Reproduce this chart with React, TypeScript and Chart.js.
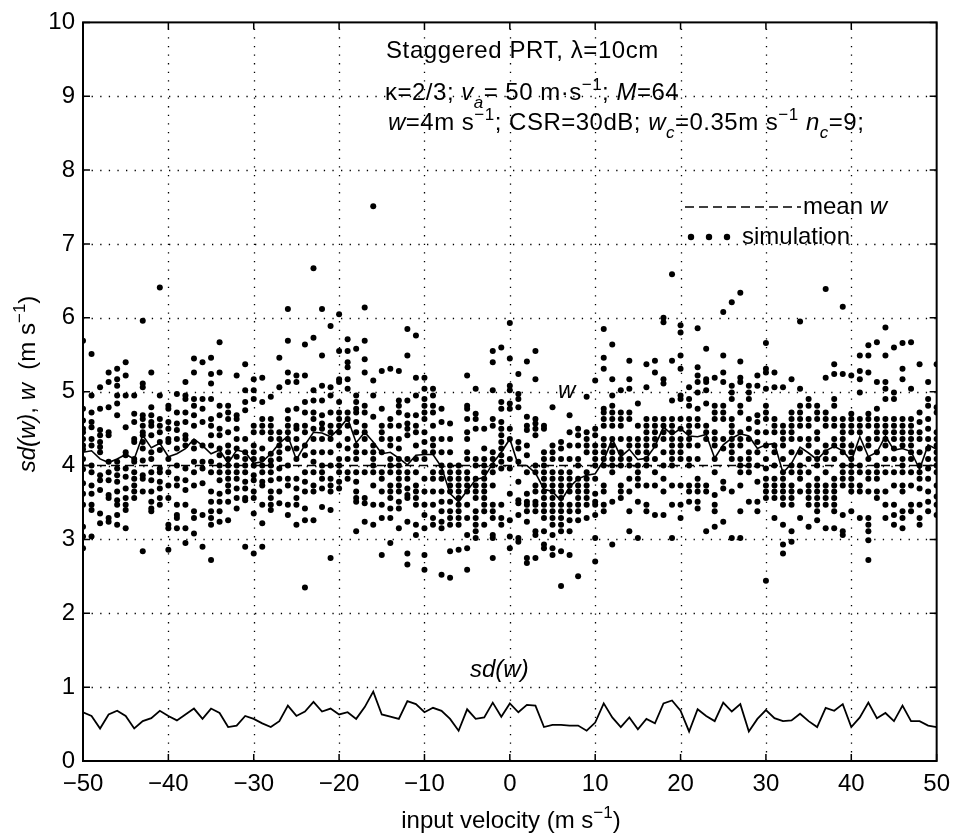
import React, { useEffect, useRef } from 'react';
import { Chart, registerables } from 'chart.js';
Chart.register(...registerables);

// ---------- DATA ----------
const VELOCITY = [
  -50, -49, -48, -47, -46, -45, -44, -43, -42, -41, -40, -39, -38, -37, -36, -35, -34,
  -33, -32, -31, -30, -29, -28, -27, -26, -25, -24, -23, -22, -21, -20, -19, -18, -17,
  -16, -15, -14, -13, -12, -11, -10, -9, -8, -7, -6, -5, -4, -3, -2, -1, 0, 1, 2, 3, 4,
  5, 6, 7, 8, 9, 10, 11, 12, 13, 14, 15, 16, 17, 18, 19, 20, 21, 22, 23, 24, 25, 26, 27,
  28, 29, 30, 31, 32, 33, 34, 35, 36, 37, 38, 39, 40, 41, 42, 43, 44, 45, 46, 47, 48, 49, 50,
];

// mean spectrum width w (solid line)
const W_MEAN = [
  4.18, 4.2, 4.09, 4.04, 4.09, 4.15, 4.09, 4.41, 4.24, 4.3, 4.12, 4.16, 4.23, 4.36, 4.27, 4.16, 4.21,
  4.03, 4.21, 4.18, 4.03, 4.05, 4.16, 4.3, 4.4, 4.08, 4.28, 4.45, 4.44, 4.39, 4.5, 4.64, 4.31, 4.45,
  4.32, 4.16, 4.18, 4.1, 4.01, 4.14, 4.15, 4.15, 3.98, 3.62, 3.51, 3.66, 3.81, 3.84, 4.03, 4.18, 4.36,
  4.0, 4.0, 3.9, 3.68, 3.65, 3.52, 3.71, 3.82, 3.87, 3.89, 4.07, 4.36, 4.12, 4.22, 4.08, 4.1, 4.26,
  4.52, 4.42, 4.5, 4.4, 4.39, 4.42, 4.1, 4.28, 4.37, 4.43, 4.4, 4.23, 4.28, 4.3, 3.9, 4.03, 4.25,
  4.17, 4.08, 4.2, 4.26, 4.2, 4.06, 4.39, 4.12, 4.18, 4.4, 4.21, 4.23, 4.19, 3.95, 4.28, 4.22,
];

// sd(w) (bottom solid line)
const SD_W = [
  0.66, 0.61, 0.44, 0.63, 0.68, 0.61, 0.44, 0.54, 0.58, 0.68, 0.61, 0.55, 0.63, 0.71, 0.57, 0.71, 0.65,
  0.46, 0.48, 0.61, 0.57, 0.51, 0.46, 0.54, 0.75, 0.61, 0.67, 0.8, 0.67, 0.71, 0.63, 0.66, 0.57, 0.73,
  0.94, 0.63, 0.6, 0.57, 0.81, 0.77, 0.66, 0.72, 0.68, 0.57, 0.41, 0.7, 0.57, 0.59, 0.79, 0.6, 0.78,
  0.66, 0.76, 0.75, 0.46, 0.49, 0.49, 0.48, 0.48, 0.41, 0.52, 0.78, 0.59, 0.46, 0.59, 0.43, 0.57, 0.51,
  0.78, 0.82, 0.68, 0.4, 0.7, 0.61, 0.54, 0.79, 0.67, 0.77, 0.4, 0.57, 0.69, 0.58, 0.54, 0.55, 0.64,
  0.54, 0.46, 0.72, 0.68, 0.77, 0.46, 0.59, 0.79, 0.58, 0.65, 0.54, 0.75, 0.54, 0.54, 0.48, 0.46,
];

const MEAN_W_REF = 4; // dashed "mean w" level

// simulation results, one list per input velocity (same order as VELOCITY)
const SIMULATION = [
  [5.69, 4.77, 4.61, 4.5, 4.45, 4.36, 4.27, 4.22, 4.09, 3.95, 3.76, 3.62, 3.47, 3.17, 3.04, 2.88],
  [5.51, 4.95, 4.72, 4.59, 4.52, 4.36, 4.27, 4.0, 3.91, 3.73, 3.62, 3.47, 3.4, 3.04],
  [5.06, 4.77, 4.48, 4.41, 4.32, 4.25, 4.18, 3.87, 3.8, 3.67, 3.35, 3.22],
  [5.26, 5.13, 4.79, 4.45, 4.41, 4.05, 3.91, 3.8, 3.6, 3.56, 3.29, 3.24],
  [5.31, 5.17, 5.08, 4.95, 4.84, 4.68, 4.05, 3.96, 3.87, 3.78, 3.65, 3.53, 3.47, 3.33, 3.2],
  [5.4, 5.22, 4.95, 4.52, 4.18, 4.14, 3.96, 3.85, 3.69, 3.56, 3.47, 3.4, 3.15],
  [4.95, 4.7, 4.59, 4.36, 4.32, 4.09, 4.05, 3.91, 3.82, 3.73, 3.65, 3.56],
  [5.96, 5.11, 5.06, 4.68, 4.63, 4.54, 4.45, 4.41, 4.32, 4.23, 4.07, 3.87, 3.82, 3.65, 2.84],
  [5.26, 4.79, 4.68, 4.59, 4.54, 4.41, 4.18, 4.09, 3.91, 3.8, 3.65, 3.51, 3.42, 3.38],
  [6.41, 4.95, 4.63, 4.54, 4.45, 4.32, 4.21, 3.96, 3.91, 3.78, 3.69, 3.56, 3.47],
  [4.81, 4.77, 4.59, 4.5, 4.36, 4.32, 4.09, 3.91, 3.73, 3.56, 3.2, 3.15, 2.86],
  [4.97, 4.72, 4.57, 4.48, 4.36, 4.23, 4.0, 3.82, 3.73, 3.47, 3.33, 3.29, 3.15],
  [5.13, 4.95, 4.9, 4.72, 4.59, 4.41, 4.36, 4.27, 3.96, 3.8, 3.67, 3.47, 3.15, 2.95],
  [5.45, 5.26, 4.9, 4.81, 4.68, 4.54, 4.32, 4.23, 4.05, 3.91, 3.73, 3.38, 3.29, 3.08],
  [5.4, 4.9, 4.77, 4.59, 4.27, 4.05, 3.96, 3.76, 3.33, 2.9],
  [5.46, 5.24, 5.11, 4.9, 4.63, 4.54, 4.41, 4.27, 4.05, 3.91, 3.65, 3.51, 3.38, 3.29, 3.2, 2.72],
  [5.67, 5.26, 4.81, 4.68, 4.5, 4.41, 4.23, 4.14, 4.0, 3.91, 3.8, 3.62, 3.51, 3.38, 3.24],
  [4.81, 4.72, 4.63, 4.45, 4.27, 4.18, 4.09, 4.0, 3.91, 3.82, 3.73, 3.65, 3.51, 3.26],
  [5.22, 4.68, 4.63, 4.5, 4.36, 4.23, 4.12, 4.0, 3.91, 3.82, 3.69, 3.56, 3.42],
  [5.37, 5.02, 4.86, 4.75, 4.36, 4.18, 4.09, 4.0, 3.91, 3.78, 3.69, 3.56, 3.53, 2.9],
  [5.17, 5.02, 4.9, 4.54, 4.45, 4.27, 4.18, 4.09, 4.0, 3.87, 3.8, 3.65, 3.56, 3.35, 2.81],
  [5.19, 4.86, 4.63, 4.54, 4.45, 4.23, 4.09, 4.0, 3.91, 3.78, 3.73, 3.47, 3.22, 2.9],
  [4.93, 4.63, 4.54, 4.45, 4.36, 4.16, 4.07, 4.0, 3.91, 3.8, 3.65, 3.56, 3.47, 3.4],
  [5.46, 5.06, 4.45, 4.36, 4.27, 4.18, 4.09, 3.96, 3.82, 3.65, 3.49],
  [6.12, 5.69, 5.26, 5.13, 4.75, 4.63, 4.54, 4.45, 4.36, 4.23, 4.0, 3.82, 3.73, 3.47, 3.33],
  [5.22, 5.13, 4.77, 4.54, 4.5, 4.36, 4.23, 4.09, 3.82, 3.69, 3.56, 3.47, 3.2],
  [5.64, 5.22, 4.86, 4.72, 4.54, 4.45, 4.27, 4.14, 3.91, 3.78, 3.65, 3.42, 3.26, 2.35],
  [6.67, 5.73, 5.02, 4.88, 4.72, 4.63, 4.5, 4.36, 4.18, 4.05, 3.91, 3.73, 3.65, 3.26],
  [6.12, 5.49, 5.08, 4.88, 4.68, 4.57, 4.5, 4.36, 4.18, 4.0, 3.91, 3.82, 3.69, 3.44],
  [5.89, 5.06, 4.95, 4.72, 4.54, 4.45, 4.36, 4.18, 4.0, 3.82, 3.73, 3.65, 3.4, 2.75],
  [6.05, 5.55, 5.17, 5.13, 4.86, 4.72, 4.63, 4.54, 4.45, 4.27, 4.09, 4.0, 3.91, 3.78, 3.69],
  [5.71, 5.55, 5.4, 5.33, 5.17, 5.04, 4.72, 4.63, 4.54, 4.36, 4.23, 4.09, 3.91, 3.82],
  [5.58, 4.95, 4.86, 4.77, 4.72, 4.59, 4.45, 4.27, 4.18, 4.09, 3.91, 3.78, 3.65, 3.56, 3.51, 3.11],
  [6.14, 5.69, 5.44, 5.26, 4.81, 4.72, 4.54, 4.45, 4.36, 4.18, 3.91, 3.56, 3.49, 3.24],
  [7.51, 5.15, 4.95, 4.66, 4.27, 4.18, 4.09, 4.0, 3.91, 3.73, 3.47, 3.2],
  [5.28, 4.77, 4.54, 4.45, 4.36, 4.18, 3.91, 3.82, 3.65, 3.47, 3.29, 2.79],
  [5.31, 4.63, 4.54, 4.36, 4.27, 4.09, 4.0, 3.91, 3.73, 3.65, 3.56, 3.42, 3.29, 2.95],
  [5.28, 4.88, 4.81, 4.72, 4.54, 4.36, 4.23, 4.09, 4.0, 3.91, 3.82, 3.73, 3.65, 3.51, 3.42, 3.15],
  [5.85, 5.49, 4.88, 4.68, 4.57, 4.5, 4.41, 4.09, 3.91, 3.82, 3.69, 3.6, 3.56, 3.24, 2.81, 2.66],
  [5.76, 5.19, 4.95, 4.68, 4.54, 4.45, 4.27, 4.09, 3.91, 3.73, 3.65, 3.56, 3.47, 3.2, 3.06],
  [5.19, 5.04, 4.9, 4.81, 4.72, 4.63, 4.45, 4.32, 4.18, 4.09, 3.82, 3.65, 3.47, 3.33, 3.15, 2.79, 2.59],
  [5.04, 4.95, 4.81, 4.72, 4.54, 4.36, 4.27, 4.18, 3.91, 3.82, 3.65, 3.47, 3.29, 3.2],
  [4.77, 4.59, 4.36, 4.18, 4.0, 3.91, 3.82, 3.65, 3.51, 3.38, 3.24, 3.15, 2.52],
  [4.57, 4.36, 4.18, 4.0, 3.91, 3.82, 3.73, 3.65, 3.51, 3.38, 3.29, 3.2, 2.84, 2.48],
  [4.0, 3.91, 3.82, 3.73, 3.65, 3.56, 3.47, 3.38, 3.29, 3.2, 2.86],
  [5.22, 4.81, 4.77, 4.63, 4.45, 4.36, 4.18, 4.09, 3.91, 3.82, 3.73, 3.65, 3.47, 3.29, 3.06, 2.88, 2.59],
  [5.04, 4.7, 4.63, 4.5, 4.09, 4.0, 3.82, 3.73, 3.65, 3.56, 3.38, 3.29, 3.2, 3.11, 3.02],
  [4.5, 4.23, 4.09, 4.0, 3.91, 3.82, 3.73, 3.65, 3.56, 3.47, 3.38, 3.2],
  [5.55, 5.4, 5.02, 4.63, 4.54, 4.18, 4.09, 4.0, 3.91, 3.73, 3.47, 3.38, 3.29, 3.06, 3.02, 2.75],
  [5.6, 4.86, 4.77, 4.59, 4.5, 4.41, 4.32, 4.23, 4.14, 4.05, 3.96, 3.47, 3.29, 3.2],
  [5.93, 5.45, 5.08, 5.02, 4.84, 4.77, 4.5, 4.36, 4.09, 3.96, 3.62, 3.26, 3.04, 2.88],
  [5.24, 4.97, 4.9, 4.79, 4.32, 4.23, 4.05, 3.78, 3.53, 3.49, 3.33, 3.02, 2.97],
  [5.41, 4.66, 4.54, 4.48, 4.27, 4.14, 3.91, 3.62, 3.51, 3.47, 3.38, 3.24, 2.75, 2.68],
  [5.55, 5.17, 4.63, 4.57, 4.5, 4.41, 4.0, 3.91, 3.73, 3.65, 3.51, 3.47, 3.38, 3.11, 3.06, 2.75],
  [4.54, 4.5, 4.18, 4.09, 4.0, 3.91, 3.82, 3.73, 3.65, 3.56, 3.47, 3.38, 3.29, 3.11, 2.93, 2.88],
  [4.79, 4.27, 4.18, 4.09, 3.91, 3.82, 3.73, 3.65, 3.56, 3.47, 3.38, 3.29, 3.2, 3.06, 2.88, 2.79],
  [4.32, 4.23, 4.09, 3.91, 3.82, 3.73, 3.65, 3.56, 3.47, 3.38, 3.29, 3.2, 3.11, 2.84, 2.37],
  [4.68, 4.45, 4.27, 4.09, 3.91, 3.82, 3.73, 3.65, 3.47, 3.38, 3.26, 3.11, 2.79],
  [4.5, 4.41, 4.27, 4.09, 4.0, 3.82, 3.73, 3.65, 3.56, 3.47, 3.38, 3.26, 2.5],
  [4.93, 4.45, 4.36, 4.27, 4.18, 3.91, 3.82, 3.73, 3.65, 3.56, 3.47, 3.29],
  [5.15, 4.5, 4.41, 4.27, 4.18, 4.09, 4.0, 3.82, 3.62, 3.51, 3.47, 3.33, 3.02, 2.7],
  [5.85, 5.46, 5.31, 4.77, 4.72, 4.63, 4.54, 4.36, 4.27, 4.18, 4.09, 4.0, 3.73, 3.65, 3.47, 3.38],
  [5.64, 5.17, 4.95, 4.81, 4.72, 4.63, 4.54, 4.36, 4.27, 4.18, 4.09, 4.0, 3.91, 3.51, 2.93],
  [5.02, 4.72, 4.63, 4.54, 4.36, 4.18, 4.09, 4.0, 3.73, 3.65, 3.56],
  [5.42, 5.17, 5.04, 4.72, 4.63, 4.36, 4.27, 4.09, 4.0, 3.82, 3.65, 3.38, 3.11],
  [4.84, 4.54, 4.36, 4.27, 4.18, 4.0, 3.91, 3.82, 3.73, 3.51, 3.02],
  [5.37, 5.06, 4.63, 4.54, 4.45, 4.36, 4.27, 4.18, 4.09, 4.0, 3.73, 3.47, 3.38],
  [5.42, 5.26, 4.63, 4.54, 4.45, 4.36, 4.27, 4.09, 3.91, 3.73, 3.33],
  [6.0, 5.94, 5.17, 5.11, 4.63, 4.54, 4.45, 4.36, 4.18, 4.0, 3.82, 3.65, 3.33],
  [6.59, 5.42, 4.88, 4.63, 4.54, 4.45, 4.36, 4.27, 4.18, 4.09, 4.0, 3.73, 3.47, 3.02],
  [5.9, 5.8, 5.49, 5.31, 4.95, 4.9, 4.63, 4.5, 4.36, 4.27, 4.18, 4.09, 3.73, 3.47, 3.29],
  [5.06, 4.9, 4.81, 4.63, 4.54, 4.45, 4.36, 4.27, 4.09, 4.0, 3.73, 3.65, 3.51],
  [5.86, 5.33, 5.22, 5.13, 4.99, 4.77, 4.63, 4.54, 4.27, 4.09, 3.82, 3.73, 3.65, 3.51, 3.42],
  [5.58, 5.17, 5.13, 5.02, 4.84, 4.54, 4.45, 4.36, 3.73, 3.65, 3.11],
  [5.19, 4.81, 4.72, 4.63, 4.45, 4.36, 4.27, 4.09, 3.91, 3.6, 3.47, 3.38, 3.17],
  [6.08, 5.49, 5.26, 5.13, 4.81, 4.72, 4.63, 4.36, 4.23, 3.78, 3.69, 3.24],
  [6.21, 5.08, 4.99, 4.9, 4.63, 4.54, 4.45, 4.36, 4.27, 4.18, 4.09, 3.65, 3.02],
  [6.34, 5.41, 5.19, 5.13, 4.81, 4.72, 4.45, 4.36, 4.27, 4.09, 4.0, 3.91, 3.73, 3.38, 3.02],
  [5.08, 4.99, 4.9, 4.63, 4.5, 4.36, 4.18, 4.09, 4.0, 3.91, 3.51],
  [5.22, 5.08, 4.68, 4.59, 4.45, 4.32, 4.18, 4.0, 3.78, 3.51, 3.38],
  [5.66, 5.31, 5.26, 5.04, 4.81, 4.72, 4.63, 4.45, 4.27, 4.09, 3.96, 3.82, 3.73, 3.65, 3.56, 2.44],
  [5.26, 5.06, 4.63, 4.54, 4.45, 4.27, 4.18, 4.0, 3.82, 3.73, 3.65, 3.56, 3.29],
  [5.06, 4.54, 4.45, 4.36, 4.27, 4.09, 3.91, 3.82, 3.73, 3.65, 3.56, 3.47, 3.2, 2.93, 2.81],
  [5.17, 4.72, 4.63, 4.54, 4.45, 4.36, 4.18, 4.0, 3.91, 3.73, 3.65, 3.56, 3.47, 3.11, 2.97],
  [5.95, 5.04, 4.81, 4.72, 4.63, 4.54, 4.36, 4.18, 4.0, 3.91, 3.82, 3.65, 3.29],
  [4.9, 4.81, 4.63, 4.54, 4.36, 4.27, 4.09, 3.91, 3.73, 3.65, 3.56, 3.47, 3.17],
  [4.81, 4.72, 4.63, 4.45, 4.36, 4.18, 4.09, 4.0, 3.82, 3.73, 3.65, 3.56, 3.47, 3.38, 3.26],
  [6.39, 5.19, 4.72, 4.63, 4.54, 4.27, 4.18, 4.09, 3.91, 3.73, 3.65, 3.56, 3.47, 3.15],
  [5.37, 5.24, 4.9, 4.81, 4.63, 4.54, 4.36, 4.27, 4.09, 3.82, 3.73, 3.65, 3.56, 3.47, 3.38, 3.15],
  [6.15, 5.24, 4.63, 4.54, 4.45, 4.36, 4.27, 4.18, 4.0, 3.91, 3.82, 3.73, 3.33, 3.11, 3.06],
  [5.22, 4.7, 4.63, 4.54, 4.45, 4.27, 4.18, 4.09, 4.0, 3.91, 3.82, 3.73, 3.65, 3.38],
  [5.49, 5.28, 5.17, 4.99, 4.63, 4.54, 4.45, 4.23, 4.0, 3.91, 3.73, 3.65, 3.29],
  [5.63, 5.49, 5.26, 4.7, 4.63, 4.54, 4.36, 4.27, 4.09, 3.91, 3.82, 3.65, 3.29, 3.2, 3.11, 2.99, 2.72],
  [5.67, 5.13, 4.77, 4.63, 4.54, 4.45, 4.36, 4.18, 4.0, 3.91, 3.82, 3.65, 3.56],
  [5.87, 5.49, 5.13, 5.04, 4.9, 4.63, 4.54, 4.45, 4.36, 4.27, 4.09, 3.91, 3.65, 3.47, 3.29],
  [5.6, 4.99, 4.9, 4.63, 4.54, 4.45, 4.36, 4.23, 4.09, 3.91, 3.73, 3.47, 3.33, 3.2],
  [5.66, 5.31, 5.17, 4.63, 4.54, 4.45, 4.36, 4.27, 4.09, 4.0, 3.91, 3.73, 3.65, 3.38, 3.29, 3.15],
  [5.67, 5.04, 4.63, 4.54, 4.45, 4.36, 4.27, 4.18, 4.09, 3.91, 3.73, 3.47, 3.38],
  [5.37, 4.72, 4.59, 4.45, 4.36, 4.18, 4.0, 3.91, 3.82, 3.69, 3.47, 3.29, 3.2],
  [5.13, 4.9, 4.81, 4.63, 4.5, 4.36, 4.23, 4.09, 3.96, 3.82, 3.65, 3.51, 3.38],
  [5.37, 4.79, 4.72, 4.45, 4.36, 4.27, 4.18, 4.09, 4.0, 3.91, 3.73, 3.58, 3.47, 3.33],
];

const X_TICKS = [-50, -40, -30, -20, -10, 0, 10, 20, 30, 40, 50];
const Y_TICKS = [0, 1, 2, 3, 4, 5, 6, 7, 8, 9, 10];

// ---------- STYLE ----------
const FONT = '"Liberation Sans", Arial, Helvetica, sans-serif';
const FS = 24;

type Part = [string, 'n' | 'i' | 'sup' | 'sub'];

function partFont(style: Part[1]) {
  const small = style === 'sup' || style === 'sub';
  const italic = style === 'i' || style === 'sub';
  const size = small ? Math.round(FS * 0.7) : FS;
  return `${italic ? 'italic ' : ''}${size}px ${FONT}`;
}

function measureRich(ctx: CanvasRenderingContext2D, parts: Part[]) {
  let w = 0;
  for (const [t, s] of parts) {
    ctx.font = partFont(s);
    w += ctx.measureText(t).width;
  }
  return w;
}

function drawRich(ctx: CanvasRenderingContext2D, x: number, y: number, parts: Part[], spacing = 0) {
  let cx = x;
  ctx.textAlign = 'left';
  ctx.textBaseline = 'alphabetic';
  (ctx as any).letterSpacing = `${spacing}px`;
  for (const [t, s] of parts) {
    ctx.font = partFont(s);
    const dy = s === 'sup' ? -FS * 0.42 : s === 'sub' ? FS * 0.33 : 0;
    ctx.fillText(t, cx, y + dy);
    cx += ctx.measureText(t).width;
  }
  (ctx as any).letterSpacing = '0px';
  return cx;
}

const gridPlugin = {
  id: 'matlabGrid',
  beforeDatasetsDraw(chart: any) {
    const { ctx, chartArea, scales } = chart;
    const { left, right, top, bottom } = chartArea;
    ctx.save();
    ctx.strokeStyle = '#000';
    ctx.lineWidth = 1.3;
    ctx.setLineDash([1.3, 7.3]);
    for (const v of X_TICKS) {
      const px = Math.round(scales.x.getPixelForValue(v)) + 0.5;
      if (px <= left + 1 || px >= right - 1) continue;
      ctx.beginPath();
      ctx.moveTo(px, bottom);
      ctx.lineTo(px, top);
      ctx.stroke();
    }
    for (const v of Y_TICKS) {
      const py = Math.round(scales.y.getPixelForValue(v)) + 0.5;
      if (py <= top + 1 || py >= bottom - 1) continue;
      ctx.beginPath();
      ctx.moveTo(left, py);
      ctx.lineTo(right, py);
      ctx.stroke();
    }
    ctx.restore();
  },
  afterDraw(chart: any) {
    const { ctx, chartArea, scales } = chart;
    const { left, right, top, bottom } = chartArea;
    ctx.save();
    ctx.setLineDash([]);
    ctx.strokeStyle = '#000';
    ctx.lineWidth = 2;
    ctx.strokeRect(left, top, right - left, bottom - top);
    ctx.lineWidth = 1.5;
    const tl = 7;
    for (const v of X_TICKS) {
      const px = scales.x.getPixelForValue(v);
      ctx.beginPath();
      ctx.moveTo(px, bottom);
      ctx.lineTo(px, bottom - tl);
      ctx.moveTo(px, top);
      ctx.lineTo(px, top + tl);
      ctx.stroke();
    }
    for (const v of Y_TICKS) {
      const py = scales.y.getPixelForValue(v);
      ctx.beginPath();
      ctx.moveTo(left, py);
      ctx.lineTo(left + tl, py);
      ctx.moveTo(right, py);
      ctx.lineTo(right - tl, py);
      ctx.stroke();
    }

    ctx.fillStyle = '#000';
    // annotation block
    drawRich(ctx, 386, 58, [['Staggered PRT, λ=10cm', 'n']], 0.6);
    drawRich(ctx, 385, 100, [
      ['κ=2/3; ', 'n'], ['v', 'i'], ['a', 'sub'], ['= 50 m·s', 'n'], ['−1', 'sup'],
      ['; ', 'n'], ['M', 'i'], ['=64', 'n'],
    ], 0.5);
    drawRich(ctx, 388, 130, [
      ['w', 'i'], ['=4m s', 'n'], ['−1', 'sup'], ['; CSR=30dB; ', 'n'], ['w', 'i'], ['c', 'sub'],
      ['=0.35m s', 'n'], ['−1', 'sup'], [' ', 'n'], ['n', 'i'], ['c', 'sub'], ['=9;', 'n'],
    ], 0.5);

    // legend
    ctx.lineWidth = 1.5;
    ctx.setLineDash([9, 5]);
    ctx.beginPath();
    ctx.moveTo(685, 207);
    ctx.lineTo(801, 207);
    ctx.stroke();
    ctx.setLineDash([]);
    drawRich(ctx, 803, 214, [['mean ', 'n'], ['w', 'i']]);
    for (const dx of [691, 709, 727]) {
      ctx.beginPath();
      ctx.arc(dx, 237, 3.2, 0, Math.PI * 2);
      ctx.fill();
    }
    drawRich(ctx, 742, 244, [['simulation', 'n']]);

    // curve labels
    drawRich(ctx, 558, 398, [['w', 'i']]);
    drawRich(ctx, 470, 677, [['sd(w)', 'i']]);

    // x-axis title
    const xt: Part[] = [['input velocity (m s', 'n'], ['−1', 'sup'], [')', 'n']];
    const xw = measureRich(ctx, xt);
    drawRich(ctx, 511 - xw / 2, 828, xt);

    // y-axis title
    const yt: Part[] = [['sd(w)', 'i'], [', ', 'n'], ['w', 'i'], ['  (m s', 'n'], ['−1', 'sup'], [')', 'n']];
    const yw = measureRich(ctx, yt);
    ctx.translate(35, 384);
    ctx.rotate(-Math.PI / 2);
    drawRich(ctx, -yw / 2, 0, yt);
    ctx.restore();
  },
};

export default function App() {
  const ref = useRef<HTMLCanvasElement | null>(null);

  useEffect(() => {
    if (!ref.current) return;
    const scatterPts: { x: number; y: number }[] = [];
    SIMULATION.forEach((col, i) => {
      col.forEach((v) => scatterPts.push({ x: VELOCITY[i], y: v }));
    });
    const wPts = VELOCITY.map((v, i) => ({ x: v, y: W_MEAN[i] }));
    const sdPts = VELOCITY.map((v, i) => ({ x: v, y: SD_W[i] }));
    const meanPts = [
      { x: VELOCITY[0], y: MEAN_W_REF },
      { x: VELOCITY[VELOCITY.length - 1], y: MEAN_W_REF },
    ];

    const chart = new Chart(ref.current, {
      type: 'scatter',
      data: {
        datasets: [
          {
            type: 'line',
            label: 'w',
            data: wPts,
            borderColor: '#000',
            borderWidth: 1.6,
            pointRadius: 0,
            tension: 0,
          },
          {
            type: 'line',
            label: 'sd(w)',
            data: sdPts,
            borderColor: '#000',
            borderWidth: 1.8,
            pointRadius: 0,
            tension: 0,
          },
          {
            type: 'line',
            label: 'mean w',
            data: meanPts,
            borderColor: '#000',
            borderWidth: 1.5,
            borderDash: [9, 5],
            pointRadius: 0,
          },
          {
            type: 'scatter',
            label: 'simulation',
            data: scatterPts,
            backgroundColor: '#000',
            borderWidth: 0,
            pointRadius: 3,
          },
        ] as any,
      },
      options: {
        animation: false,
        responsive: false,
        devicePixelRatio: 1,
        layout: { padding: { left: 0, top: 19, right: 19, bottom: 0 } },
        plugins: { legend: { display: false }, tooltip: { enabled: false } },
        scales: {
          x: {
            type: 'linear',
            min: -50,
            max: 50,
            afterFit: (s: any) => { s.height = 77; },
            afterBuildTicks: (s: any) => { s.ticks = X_TICKS.map((v) => ({ value: v })); },
            ticks: {
              color: '#000',
              font: { family: FONT, size: FS },
              padding: 9,
              maxRotation: 0,
              autoSkip: false,
              callback: (v: any) => (Number(v) < 0 ? '−' + Math.abs(Number(v)) : String(v)),
            },
            grid: { display: false, drawTicks: false },
            border: { display: false },
          },
          y: {
            type: 'linear',
            min: 0,
            max: 10,
            afterFit: (s: any) => { s.width = 83; },
            afterBuildTicks: (s: any) => { s.ticks = Y_TICKS.map((v) => ({ value: v })); },
            ticks: {
              color: '#000',
              font: { family: FONT, size: FS },
              padding: 8,
              autoSkip: false,
            },
            grid: { display: false, drawTicks: false },
            border: { display: false },
          },
        },
      },
      plugins: [gridPlugin],
    });
    return () => chart.destroy();
  }, []);

  return (
    <div style={{ position: 'fixed', left: 0, top: 0, width: 959, height: 838, background: '#fff' }}>
      <canvas ref={ref} width={959} height={838} style={{ display: 'block' }} />
    </div>
  );
}
